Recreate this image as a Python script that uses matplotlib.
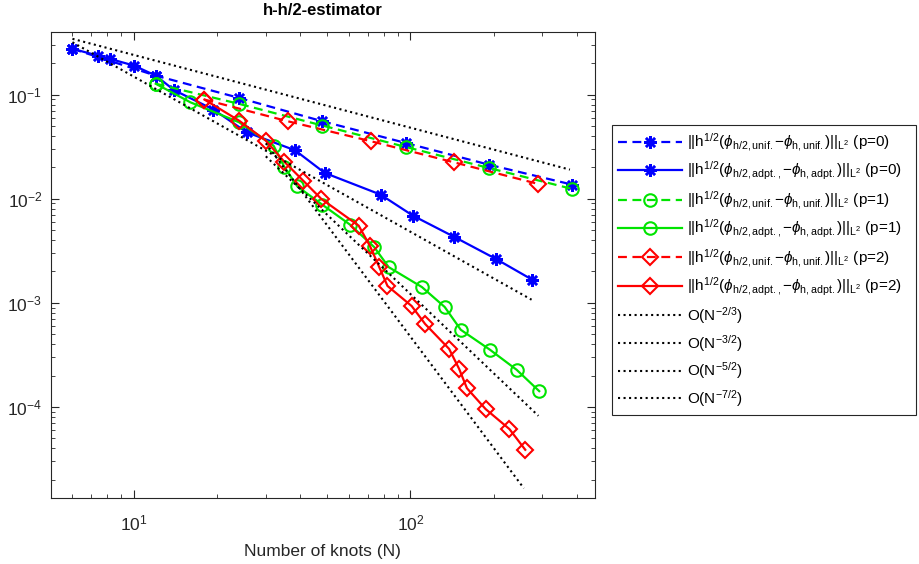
import matplotlib.pyplot as plt
from matplotlib.ticker import LogLocator, NullFormatter

plt.rcParams['font.family'] = 'Liberation Sans'
plt.rcParams['mathtext.fontset'] = 'custom'
plt.rcParams['mathtext.rm'] = 'Liberation Sans'
plt.rcParams['mathtext.it'] = 'Liberation Sans:italic'
plt.rcParams['mathtext.bf'] = 'Liberation Sans:bold'
plt.rcParams['axes.unicode_minus'] = False

# p=0
N_unif_p0 = [6, 12, 24, 48, 96, 192, 384]
err_unif_p0 = [0.275, 0.152, 0.0929, 0.0554, 0.0343, 0.0212, 0.01364]
N_adpt_p0 = [6, 7.4, 8.2, 10, 12, 14, 19.4, 25.6, 38.3, 49, 78, 102, 144, 204, 276]
err_adpt_p0 = [0.275, 0.237, 0.220, 0.190, 0.152, 0.110, 0.0718, 0.0434, 0.0291,
               0.01766, 0.01093, 0.00687, 0.00429, 0.00263, 0.00166]

# p=1
N_unif_p1 = [12, 24, 48, 96, 192, 384]
err_unif_p1 = [0.127, 0.0814, 0.0504, 0.0314, 0.0197, 0.0124]
N_adpt_p1 = [12, 16, 24, 32, 35, 39, 48, 60.5, 73.9, 83.4, 110, 133, 152, 194, 242, 292]
err_adpt_p1 = [0.127, 0.0843, 0.0542, 0.0323, 0.0202, 0.01312, 0.00875, 0.00562,
               0.00343, 0.00220, 0.001415, 0.00091, 0.00055, 0.000353, 0.000227, 0.0001416]

# p=2
N_unif_p2 = [18, 36, 72, 144, 288]
err_unif_p2 = [0.0895, 0.0554, 0.0356, 0.0223, 0.0139]
N_adpt_p2 = [18, 24, 30, 35, 41, 47.5, 65, 71.3, 77, 82.6, 101, 113, 138, 150, 160, 187, 228, 260]
err_adpt_p2 = [0.0895, 0.0562, 0.0361, 0.0226, 0.01483, 0.0100, 0.0055, 0.00353, 0.00222,
               0.00145, 0.00093, 0.000625, 0.00036, 0.000231, 0.000151, 9.51e-5, 6.11e-5, 3.87e-5]

# reference slopes (end points)
ref_N = [[6, 377], [6, 274], [30, 290], [30, 257]]
ref_err = [[0.343, 0.019], [0.318, 0.00107], [0.0255, 8.2e-5], [0.034, 1.65e-5]]
ref_labels = [r'O(N$^{\mathrm{-2/3}}$)', r'O(N$^{\mathrm{-3/2}}$)',
              r'O(N$^{\mathrm{-5/2}}$)', r'O(N$^{\mathrm{-7/2}}$)']


def lbl(kind, p):
    return (r'$||\mathrm{h}^{\mathrm{1/2}}(\phi_{\mathrm{h/2,%s}}\mathrm{-}\phi_{\mathrm{h,%s}})||_{\mathrm{L}^{2}}$ (p=%d)'
            % (kind, kind.rstrip(','), p))


fig = plt.figure(figsize=(9.19, 5.64), dpi=100)
ax = fig.add_axes([0.055, 0.1175, 0.592, 0.826])

star = (8, 2, 0)
dash = (0, (4, 2.5))
blue, green, red = '#0000ff', '#00e400', '#ff0000'

ax.loglog(N_unif_p0, err_unif_p0, color=blue, ls=dash, lw=1.6, marker=star, ms=9, mew=1.8,
          label=lbl('unif.', 0))
ax.loglog(N_adpt_p0, err_adpt_p0, color=blue, ls='-', lw=1.6, marker=star, ms=9, mew=1.8,
          label=lbl('adpt.,', 0))
ax.loglog(N_unif_p1, err_unif_p1, color=green, ls=dash, lw=1.6, marker='o', ms=9, mew=1.5,
          mfc='none', label=lbl('unif.', 1))
ax.loglog(N_adpt_p1, err_adpt_p1, color=green, ls='-', lw=1.6, marker='o', ms=9, mew=1.5,
          mfc='none', label=lbl('adpt.,', 1))
ax.loglog(N_unif_p2, err_unif_p2, color=red, ls=dash, lw=1.6, marker='D', ms=8, mew=1.5,
          mfc='none', label=lbl('unif.', 2))
ax.loglog(N_adpt_p2, err_adpt_p2, color=red, ls='-', lw=1.6, marker='D', ms=8, mew=1.5,
          mfc='none', label=lbl('adpt.,', 2))
for n, e, l in zip(ref_N, ref_err, ref_labels):
    ax.loglog(n, e, color='black', ls=':', lw=1.5, label=l)

ax.set_xlim(5, 463)
ax.set_ylim(1.34e-5, 0.40)
ax.set_title('h-h/2-estimator', fontsize=12, fontweight='bold', pad=12)
ax.set_xlabel('Number of knots (N)', fontsize=12.5, color='#262626', labelpad=8)
ax.xaxis.set_minor_locator(LogLocator(base=10, subs=range(2, 10), numticks=20))
ax.yaxis.set_minor_locator(LogLocator(base=10, subs=range(2, 10), numticks=20))
ax.xaxis.set_minor_formatter(NullFormatter())
ax.yaxis.set_minor_formatter(NullFormatter())
ax.tick_params(which='both', direction='in', top=True, right=True, labelsize=12.5,
               colors='#262626')
ax.tick_params(which='major', length=6, pad=6)
ax.tick_params(axis='x', which='major', pad=11)
ax.tick_params(which='minor', length=3)
for s in ax.spines.values():
    s.set_color('#262626')
    s.set_linewidth(0.8)

leg = fig.legend(loc='upper left', bbox_to_anchor=(0.666, 0.262, 0.331, 0.516),
                 mode='expand', fontsize=11, handlelength=4.2, handletextpad=0.3,
                 labelspacing=0.45, borderpad=0.4, fancybox=False, framealpha=1,
                 edgecolor='#262626', borderaxespad=0)
leg.get_frame().set_linewidth(0.8)

fig.savefig('out.png', dpi=100)
